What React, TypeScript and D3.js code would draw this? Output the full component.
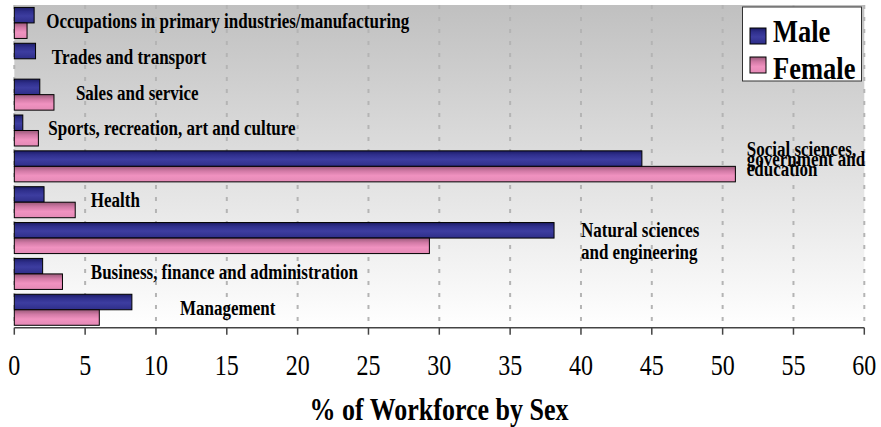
import * as d3 from "d3";

// categories listed top to bottom as they appear in the chart
const categories = [
  "Occupations in primary industries/manufacturing",
  "Trades and transport",
  "Sales and service",
  "Sports, recreation, art and culture",
  "Social sciences, government and education",
  "Health",
  "Natural sciences and engineering",
  "Business, finance and administration",
  "Management",
];

const maleValues = [1.4, 1.5, 1.8, 0.6, 44.3, 2.1, 38.1, 2.0, 8.3];
const femaleValues = [0.9, 0, 2.8, 1.7, 50.9, 4.3, 29.3, 3.4, 6.0];

// label text as it is broken into lines in the chart
const labelLines = [
  ["Occupations in primary industries/manufacturing"],
  ["Trades and transport"],
  ["Sales and service"],
  ["Sports, recreation, art and culture"],
  ["Social sciences,", "government and", "education"],
  ["Health"],
  ["Natural sciences", "and engineering"],
  ["Business, finance and administration"],
  ["Management"],
];

// where each label was dragged to (x in % units, first baseline offset and line step in px)
const labelLayout = [
  { at: 2.25, dy: 5, step: 0 },
  { at: 2.65, dy: 5, step: 0 },
  { at: 4.35, dy: 5, step: 0 },
  { at: 2.4, dy: 5, step: 0 },
  { at: 51.7, dy: -10, step: 10 },
  { at: 5.4, dy: 5, step: 0 },
  { at: 40.0, dy: -1, step: 21.5 },
  { at: 5.4, dy: 5, step: 0 },
  { at: 11.7, dy: 5, step: 0 },
];

const xTicks = d3.range(0, 61, 5);
const seriesNames = ["Male", "Female"];

const W = 881;
const H = 427;
const plot = { left: 14.3, right: 864.3, top: 5, bottom: 327.7 };
const FONT = "'Liberation Serif', 'Times New Roman', serif";
// the source image is a little taller than wide in its lettering
const STRETCH = 1.2;

function SText(props: {
  x: number;
  y: number;
  size: number;
  bold?: boolean;
  anchor?: string;
  children: any;
}) {
  return (
    <g transform={`translate(${props.x},${props.y}) scale(1,${STRETCH})`}>
      <text
        fontFamily={FONT}
        fontSize={props.size}
        fontWeight={props.bold ? "bold" : "normal"}
        textAnchor={props.anchor || "start"}
        fill="#000"
      >
        {props.children}
      </text>
    </g>
  );
}

export default function App() {
  const x = d3.scaleLinear().domain([0, 60]).range([plot.left, plot.right]);
  const y = d3
    .scaleBand<string>()
    .domain(categories)
    .range([plot.top, plot.bottom])
    .paddingInner(0.135)
    .paddingOuter(0.0675);
  const sub = d3
    .scaleBand<string>()
    .domain(seriesNames)
    .range([0, y.bandwidth()]);

  const series = [
    { name: "Male", values: maleValues, grad: "url(#gMale)" },
    { name: "Female", values: femaleValues, grad: "url(#gFemale)" },
  ];

  return (
    <div style={{ position: "fixed", left: 0, top: 0 }}>
      <svg width={W} height={H} style={{ display: "block", background: "#fff" }}>
        <defs>
          <linearGradient id="bg" x1="0" y1="0" x2="0" y2="1">
            <stop offset="0" stopColor="#c0c0c0" />
            <stop offset="1" stopColor="#ffffff" />
          </linearGradient>
          <linearGradient id="gMale" x1="0" y1="0" x2="0" y2="1">
            <stop offset="0" stopColor="#1c1c66" />
            <stop offset="0.25" stopColor="#2f2f8c" />
            <stop offset="0.55" stopColor="#3d3da0" />
            <stop offset="1" stopColor="#2e2e88" />
          </linearGradient>
          <linearGradient id="gFemale" x1="0" y1="0" x2="0" y2="1">
            <stop offset="0" stopColor="#9a5a7a" />
            <stop offset="0.3" stopColor="#d27aa6" />
            <stop offset="0.6" stopColor="#f092c0" />
            <stop offset="1" stopColor="#e48ab6" />
          </linearGradient>
        </defs>

        <rect
          x={plot.left}
          y={plot.top}
          width={plot.right - plot.left}
          height={plot.bottom - plot.top}
          fill="url(#bg)"
        />

        {xTicks.map((t) => (
          <line
            key={"g" + t}
            x1={x(t)}
            x2={x(t)}
            y1={plot.top}
            y2={plot.bottom}
            stroke="#b4b4b4"
            strokeWidth={2}
            strokeDasharray="4,8"
          />
        ))}

        {series.map((s) =>
          categories.map((c, i) =>
            s.values[i] > 0 ? (
              <rect
                key={s.name + c}
                x={x(0)}
                y={(y(c) as number) + (sub(s.name) as number)}
                width={x(s.values[i]) - x(0)}
                height={sub.bandwidth()}
                fill={s.grad}
                stroke="#000"
                strokeWidth={1}
              />
            ) : null
          )
        )}

        {categories.map((c, i) => {
          const lay = labelLayout[i];
          const cy = (y(c) as number) + y.bandwidth() / 2;
          return labelLines[i].map((ln, j) => (
            <SText key={c + j} x={x(lay.at)} y={cy + lay.dy + j * lay.step} size={17} bold>
              {ln}
            </SText>
          ));
        })}

        {/* x axis */}
        <line x1={plot.left} x2={plot.right} y1={plot.bottom} y2={plot.bottom} stroke="#444" strokeWidth={1.5} />
        {xTicks.map((t) => (
          <g key={"t" + t}>
            <line x1={x(t)} x2={x(t)} y1={plot.bottom} y2={plot.bottom + 7} stroke="#444" strokeWidth={1.5} />
            <SText x={x(t)} y={374.5} size={24} anchor="middle">
              {t}
            </SText>
          </g>
        ))}

        <SText x={439} y={419.5} size={26} bold anchor="middle">
          % of Workforce by Sex
        </SText>

        {/* legend */}
        <rect x={742.5} y={7} width={119} height={74} fill="#fff" stroke="#333" strokeWidth={1} />
        {series.map((s, i) => (
          <g key={"lg" + s.name}>
            <rect x={750} y={28 + i * 29} width={16} height={16} fill={s.grad} stroke="#000" strokeWidth={1} />
            <SText x={773} y={41.5 + i * 37} size={26.5} bold>
              {s.name}
            </SText>
          </g>
        ))}
      </svg>
    </div>
  );
}
